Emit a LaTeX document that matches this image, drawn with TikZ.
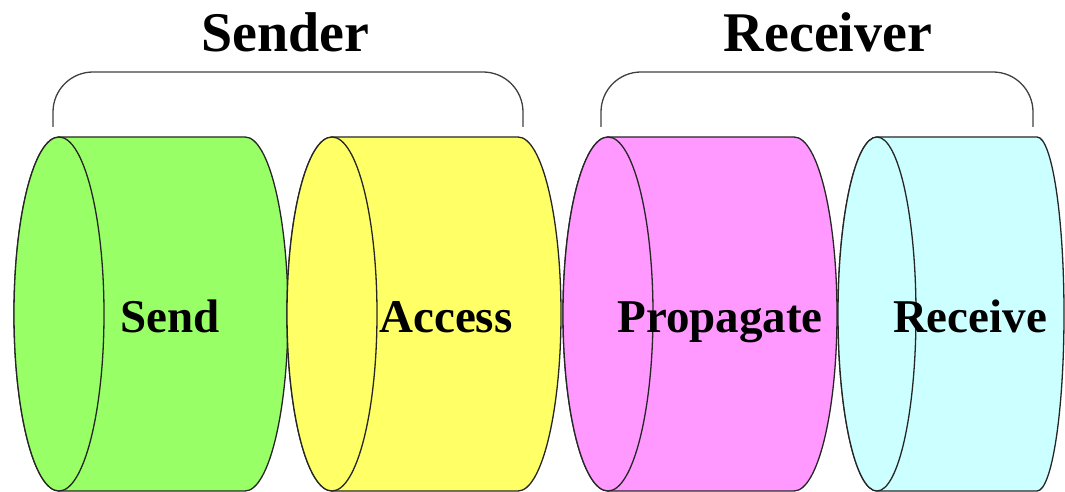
\documentclass[tikz,border=0pt]{standalone}
\usepackage{fontspec}
\setmainfont{Liberation Serif}
\usepackage{xcolor}
\definecolor{sendgreen}{RGB}{153,255,102}
\definecolor{accyellow}{RGB}{255,255,102}
\definecolor{proppink}{RGB}{255,153,255}
\definecolor{recvcyan}{RGB}{204,255,255}
\newcommand\cylry{177}

\begin{document}
\begin{tikzpicture}[x=1pt,y=1pt,
    cyl/.style={draw=black!85,line width=1.3pt},
    stagelbl/.style={anchor=base,font=\fontsize{47}{50}\selectfont\bfseries},
    grouplbl/.style={anchor=base,font=\fontsize{56}{60}\selectfont\bfseries},
    brace/.style={draw=black!75,line width=1.3pt,rounded corners=40pt}
  ]
    \useasboundingbox (0,0) rectangle (1065,492);
    \clip (0,0) rectangle (1065,492);

    % the four stages: centre, face radius, length, back radius, colour
    \foreach \cx/\lrx/\len/\rrx/\col in {59/45/186/43/sendgreen,332/45/186/43/accyellow,
        608/45/186/43/proppink,877/39/160/27/recvcyan}{
      \filldraw[cyl, fill=\col] (\cx,355) -- ++(\len,0)
        arc[start angle=90, end angle=-90, x radius=\rrx, y radius=\cylry]
        -- ++(-\len,0)
        arc[start angle=270, end angle=90, x radius=\lrx, y radius=\cylry] -- cycle;
      \filldraw[cyl, fill=\col] (\cx,178) ellipse[x radius=\lrx, y radius=\cylry];
    }

    \node[stagelbl] (send) at (170,159) {Send};
    \node[stagelbl] (access) at (446,159) {Access};
    \node[stagelbl] (propagate) at (720,159) {Propagate};
    \node[stagelbl] (receive) at (970,159) {Receive};

    \draw[brace] (53,365) |- (523,420) -- (523,365);
    \draw[brace] (601,365) |- (1033,420) -- (1033,365);

    \node[grouplbl] (sender) at (285,440) {Sender};
    \node[grouplbl] (receiver) at (828,440) {Receiver};

  \end{tikzpicture}
\end{document}
